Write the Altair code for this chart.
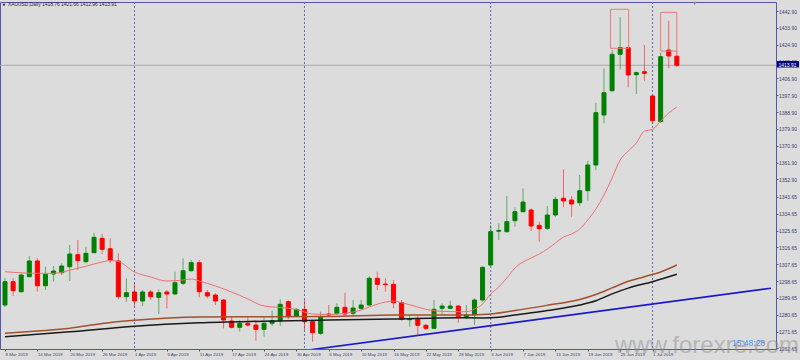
import altair as alt
import pandas as pd

# ---------------- data ----------------
date_labels = ["8 Mar 2019", "14 Mar 2019", "20 Mar 2019", "26 Mar 2019", "1 Apr 2019",
               "5 Apr 2019", "11 Apr 2019", "17 Apr 2019", "24 Apr 2019", "30 Apr 2019",
               "6 May 2019", "10 May 2019", "16 May 2019", "22 May 2019", "28 May 2019",
               "3 Jun 2019", "7 Jun 2019", "13 Jun 2019", "19 Jun 2019", "25 Jun 2019",
               "1 Jul 2019"]
label_every = 4                      # bars between two date labels
month_first_bars = [16, 37, 60, 80]  # 1 Apr, 1 May, 3 Jun, 1 Jul

opens = [1285.85, 1298.30, 1292.96, 1300.97, 1309.36, 1296.16, 1302.41, 1303.10, 1306.31, 1312.72,
         1308.98, 1313.79, 1321.48, 1315.92, 1309.36, 1290.29, 1292.80, 1287.99, 1292.80, 1289.96,
         1292.80, 1291.73, 1297.44, 1304.17, 1308.45, 1292.42, 1291.19, 1288.52, 1277.30, 1273.94,
         1276.07, 1275.16, 1272.87, 1276.07, 1277.30, 1287.62, 1279.97, 1283.55, 1276.93, 1270.73,
         1281.05, 1281.42, 1284.62, 1281.42, 1284.08, 1285.85, 1300.11, 1297.07, 1296.90, 1287.08,
         1278.00, 1278.21, 1275.00, 1273.40, 1284.08, 1284.08, 1285.31, 1279.60, 1280.51, 1288.52,
         1307.22, 1325.27, 1325.00, 1330.88, 1335.69, 1336.60, 1328.40, 1326.82, 1333.93, 1342.85,
         1341.94, 1340.50, 1346.91, 1360.64, 1387.35, 1400.33, 1419.77, 1423.30, 1408.87, 1410.48,
         1397.50, 1383.77, 1422.07, 1418.76]
highs = [1300.27, 1300.27, 1302.78, 1312.03, 1310.80, 1306.31, 1306.68, 1308.13, 1317.90, 1320.57,
         1316.99, 1324.47, 1323.78, 1321.48, 1313.47, 1300.11, 1297.76, 1293.86, 1293.86, 1294.23,
         1293.86, 1303.64, 1310.80, 1309.89, 1309.89, 1293.86, 1292.10, 1289.00, 1279.60, 1277.84,
         1279.60, 1277.84, 1279.60, 1282.80, 1288.90, 1288.30, 1284.08, 1288.52, 1277.84, 1282.27,
         1285.85, 1286.76, 1292.42, 1288.52, 1288.52, 1301.34, 1303.64, 1300.11, 1299.20, 1288.52,
         1280.51, 1280.51, 1275.70, 1288.52, 1286.76, 1288.14, 1285.85, 1285.85, 1289.43, 1306.31,
         1328.59, 1329.50, 1344.07, 1338.04, 1348.19, 1337.50, 1330.35, 1338.74, 1343.70, 1358.34,
         1344.07, 1355.29, 1362.93, 1393.92, 1412.29, 1422.07, 1439.54, 1424.00, 1410.48, 1424.74,
         1398.00, 1420.63, 1437.72, 1421.66]
lows = [1284.78, 1290.66, 1292.42, 1300.80, 1292.96, 1293.86, 1298.30, 1301.88, 1298.67, 1304.55,
        1308.13, 1313.60, 1313.09, 1308.13, 1288.90, 1287.62, 1285.31, 1285.31, 1288.52, 1281.05,
        1284.08, 1291.19, 1296.53, 1303.64, 1289.96, 1289.43, 1285.85, 1273.40, 1273.40, 1271.59,
        1274.26, 1266.78, 1268.91, 1274.63, 1274.63, 1278.21, 1279.60, 1272.49, 1266.25, 1269.82,
        1279.60, 1280.51, 1279.60, 1279.60, 1283.18, 1285.30, 1293.86, 1292.96, 1284.08, 1277.46,
        1274.26, 1269.82, 1272.49, 1273.00, 1280.51, 1283.55, 1276.39, 1278.21, 1275.16, 1287.62,
        1306.50, 1320.57, 1324.47, 1327.68, 1335.50, 1325.38, 1319.66, 1325.90, 1333.00, 1338.04,
        1333.02, 1338.74, 1341.57, 1357.97, 1382.91, 1399.50, 1411.76, 1402.14, 1398.56, 1405.67,
        1382.54, 1383.23, 1412.29, 1412.96]
closes = [1298.30, 1293.49, 1301.88, 1309.36, 1296.16, 1302.25, 1304.01, 1306.68, 1313.09, 1309.52,
          1313.47, 1322.02, 1315.60, 1309.89, 1290.29, 1292.42, 1287.99, 1292.80, 1290.29, 1292.42,
          1291.73, 1297.76, 1304.17, 1308.45, 1292.96, 1290.66, 1287.99, 1277.84, 1273.94, 1276.07,
          1275.16, 1272.87, 1276.07, 1277.46, 1286.22, 1279.60, 1283.55, 1276.93, 1271.06, 1279.28,
          1280.51, 1284.62, 1281.05, 1284.25, 1285.85, 1300.11, 1296.90, 1296.70, 1287.08, 1278.21,
          1278.40, 1275.00, 1273.40, 1283.55, 1285.31, 1285.31, 1279.60, 1280.51, 1288.52, 1305.99,
          1325.00, 1325.70, 1330.35, 1335.69, 1340.87, 1328.05, 1326.60, 1333.93, 1342.31, 1341.41,
          1339.80, 1346.91, 1360.64, 1388.58, 1399.26, 1419.77, 1423.30, 1408.71, 1409.94, 1409.62,
          1384.30, 1418.49, 1418.86, 1413.91]

ma_red_bar = [0, 4, 6, 8, 10, 12, 13, 14, 16, 18, 20, 22, 23, 24, 26, 28, 30, 32, 34, 36, 38, 40,
              42, 44, 45, 47, 48, 49, 51, 52, 54, 56, 57, 58, 59, 60, 61, 62, 63, 64, 65, 66, 67,
              68, 69, 70, 71, 72, 73, 74, 75, 76, 77, 78, 79, 80, 81, 82, 83]
ma_red_val = [1303.64, 1302.78, 1302.78, 1304.39, 1306.58, 1308.82, 1309.62, 1309.09, 1303.48,
              1300.81, 1298.67, 1299.20, 1299.74, 1298.67, 1296.00, 1292.80, 1289.06, 1285.31,
              1284.51, 1283.44, 1281.05, 1280.78, 1281.42, 1283.18, 1284.78, 1287.45, 1287.99,
              1287.08, 1284.78, 1283.55, 1282.48, 1282.27, 1282.27, 1283.71, 1286.38, 1291.73,
              1295.47, 1300.27, 1305.61, 1308.82, 1310.96, 1313.09, 1315.76, 1318.97, 1322.17,
              1323.78, 1326.45, 1331.26, 1337.13, 1344.61, 1353.70, 1363.31, 1368.12, 1372.39,
              1378.80, 1379.60, 1384.14, 1388.41, 1391.62]
ma_brown_bar = [0, 4, 8, 12, 16, 24, 32, 40, 48, 56, 59, 63, 67, 71, 73, 75, 77, 79, 81, 83]
ma_brown_val = [1270.73, 1271.96, 1273.40, 1275.97, 1277.68, 1279.44, 1279.60, 1279.71, 1280.51,
                1280.51, 1280.78, 1282.91, 1285.69, 1288.79, 1291.46, 1295.00, 1298.50, 1300.97,
                1303.48, 1307.22]
ma_black_bar = [0, 8, 16, 24, 32, 40, 48, 56, 59, 61, 63, 67, 71, 73, 75, 77, 80, 83]
ma_black_val = [1268.92, 1271.54, 1274.53, 1276.34, 1277.20, 1277.84, 1278.38, 1279.01, 1278.91,
                1279.33, 1280.51, 1282.91, 1285.85, 1288.15, 1291.78, 1294.87, 1298.30, 1302.25]

trend_bar = [36.6, 94.63]
trend_val = [1261.28, 1294.83]

box_bar_from = [74.8, 81.0]
box_bar_to = [77.05, 83.0]
box_low = [1422.97, 1421.50]
box_high = [1443.80, 1442.20]

y_ticks = [1262.65, 1271.65, 1280.65, 1289.65, 1298.65, 1307.65, 1316.65, 1325.65, 1334.65,
           1343.65, 1352.90, 1361.90, 1370.90, 1379.90, 1388.90, 1397.90, 1406.90, 1415.90,
           1424.90, 1433.90, 1442.90]

symbol = "XAUUSD,Daily"
timer_text = "15:48:28"
watermark = "www.forexre.com"
chart_shift_bar = 85.2

# ---------------- styling ----------------
BG = "#dcdcdc"
FRAME = "#5555aa"
LAB = "#3c3c70"
FONT = "Liberation Sans"

n = len(opens)
candles = pd.DataFrame({"i": list(range(n)), "o": opens, "h": highs, "l": lows, "c": closes})
candles["dir"] = ["up" if c >= o else "down" for o, c in zip(opens, closes)]

xs = alt.Scale(domain=[0, 776 / 8.2], nice=False, zero=False)
ys = alt.Scale(domain=[1262.35, 1447.71], nice=False, zero=False)

label_expr = "[" + ",".join("'%s'" % d for d in date_labels) + "][round(datum.value/%d)]" % label_every
xaxis = alt.Axis(values=list(range(0, label_every * len(date_labels), label_every)),
                 labelExpr=label_expr, title=None, grid=False, domain=False,
                 ticks=True, tickSize=2, tickColor=FRAME, labelAlign="left",
                 labelBaseline="top", labelPadding=1, labelFontSize=4.4, labelFont=FONT,
                 labelColor=LAB, labelOverlap=False, labelFlush=False, labelBound=False)
yaxis = alt.Axis(orient="right", values=y_ticks, format=".2f", title=None, grid=False,
                 domain=False, tickSize=2, tickColor=FRAME, labelPadding=0.5,
                 labelFontSize=5, labelFont=FONT, labelColor=LAB, labelOverlap=False,
                 labelFlush=False, labelBaseline="middle")


def X(f):
    return alt.X(f, type="quantitative", scale=xs, axis=xaxis)


def Y(f):
    return alt.Y(f, type="quantitative", scale=ys, axis=yaxis)


dir_scale = alt.Scale(domain=["up", "down"], range=["#008000", "#ff0000"])

seps = alt.Chart(pd.DataFrame({"i": month_first_bars})).mark_rule(
    strokeDash=[2, 2], color="#6464cc", strokeWidth=1).encode(x=X("i"))

price_line = alt.Chart(pd.DataFrame({"p": [closes[-1]]})).mark_rule(
    color="#a8a8a8", strokeWidth=1).encode(y=Y("p"))

wicks = alt.Chart(candles).mark_rule(strokeWidth=1, opacity=0.55, clip=True).encode(
    x=X("i"), y=Y("l"), y2="h", color=alt.Color("dir:N", scale=dir_scale, legend=None))

bodies = alt.Chart(candles).mark_bar(size=4, strokeWidth=1, clip=True).encode(
    x=X("i"), y=Y("o"), y2="c",
    color=alt.Color("dir:N", scale=dir_scale, legend=None),
    stroke=alt.Stroke("dir:N", scale=dir_scale, legend=None))


def ma_layer(bars, vals, color, width):
    df = pd.DataFrame({"i": bars, "v": vals})
    return alt.Chart(df).mark_line(color=color, strokeWidth=width, interpolate="monotone",
                                   clip=True).encode(x=X("i"), y=Y("v"))


ma_brown = ma_layer(ma_brown_bar, ma_brown_val, "#a0522d", 1.5)
ma_black = ma_layer(ma_black_bar, ma_black_val, "#1a1a1a", 1.5)
ma_red = ma_layer(ma_red_bar, ma_red_val, "#f07070", 1)

trend = alt.Chart(pd.DataFrame({"i": trend_bar, "v": trend_val})).mark_line(
    color="#1a1ac8", strokeWidth=1.6, clip=True).encode(x=X("i"), y=Y("v"))

boxes = alt.Chart(pd.DataFrame({"a": box_bar_from, "b": box_bar_to, "lo": box_low,
                                "hi": box_high})).mark_rect(
    fillOpacity=0, stroke="#f07878", strokeWidth=1, clip=True).encode(
    x=X("a"), x2="b", y=Y("lo"), y2="hi")

tag_df = pd.DataFrame({"lo": [closes[-1] - 1.2], "hi": [closes[-1] + 2.3], "p": [closes[-1]],
                       "t": ["%.2f" % closes[-1]]})
tag_box = alt.Chart(tag_df).mark_rect(color="#000080").encode(
    x=alt.value(777), x2=alt.value(799), y=Y("lo"), y2="hi")
tag_text = alt.Chart(tag_df).mark_text(align="left", baseline="middle", fontSize=5, font=FONT,
                                       color="white", dy=-0.6).encode(
    x=alt.value(778.5), y=Y("p"), text="t:N")

title_df = pd.DataFrame({"t": ["%s %.2f %.2f %.2f %.2f" % (symbol, opens[-1], highs[-1],
                                                          lows[-1], closes[-1])]})
title_txt = alt.Chart(title_df).mark_text(align="left", baseline="middle", fontSize=4.9,
                                          font=FONT, color="#20204a").encode(
    x=alt.value(8), y=alt.value(3.3), text="t:N")
title_tri = alt.Chart(pd.DataFrame({"t": ["▼"]})).mark_text(
    align="left", baseline="middle", fontSize=3.5, font="DejaVu Sans", color="#20204a").encode(
    x=alt.value(2.5), y=alt.value(3.3), text="t:N")

timer = alt.Chart(pd.DataFrame({"t": [timer_text]})).mark_text(
    align="left", baseline="alphabetic", fontSize=8.5, font=FONT, color="#3d9bff").encode(
    x=alt.value(732), y=alt.value(343.7), text="t:N")

wm = alt.Chart(pd.DataFrame({"t": [watermark]})).mark_text(
    align="left", baseline="alphabetic", fontSize=24, font=FONT, color="#888888",
    opacity=0.45).encode(x=alt.value(615), y=alt.value(351), text="t:N")

shift_mark = alt.Chart(pd.DataFrame({"i": [chart_shift_bar]})).mark_point(
    shape="triangle-down", filled=True, size=16, color="#8a8a8a", opacity=1).encode(
    x=X("i"), y=alt.value(1.5))

chart = alt.layer(seps, price_line, wicks, bodies, ma_brown, ma_black, ma_red, trend, boxes,
                  tag_box, tag_text, title_tri, title_txt, timer, wm, shift_mark).properties(
    width=776, height=347,
    padding={"left": 0, "top": 2, "right": 24, "bottom": 11},
    autosize=alt.AutoSizeParams(type="none"),
    background=BG,
).configure_view(stroke=FRAME, strokeWidth=1, fill=BG)

chart.save("out.html", embed_options={"renderer": "svg", "actions": False})
